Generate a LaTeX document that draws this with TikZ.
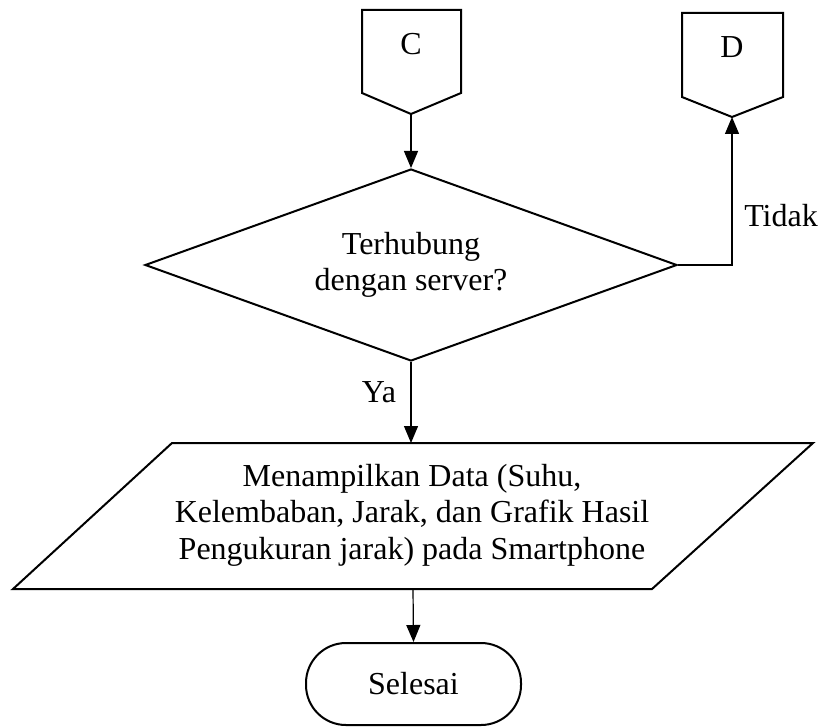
\documentclass[tikz,border=0pt]{standalone}
\usepackage{fontspec}
\setmainfont{Liberation Serif}
\usetikzlibrary{arrows.meta,shapes.geometric}
\begin{document}
\begin{tikzpicture}[x=0.5pt,y=-0.5pt,
  font=\fontsize{16}{18.2}\selectfont,
  shape line/.style={draw=black,line width=1pt,line join=miter},
  flow/.style={draw=black,line width=0.6pt,-{Triangle[length=8.5pt,width=7pt]}},
  label text/.style={inner sep=0pt}]
\useasboundingbox (0,0) rectangle (822,727);

% off-page connector C
\coordinate (Cp) at (411,114);
\draw[shape line] (362,10) -- (461,10) -- (461,93) -- (Cp) -- (362,93) -- cycle;
\node[label text] (C) at (411,44) {C};

% off-page connector D
\coordinate (Dp) at (732,117);
\draw[shape line] (682,13) -- (783,13) -- (783,97) -- (Dp) -- (682,97) -- cycle;
\node[label text] (D) at (732,47) {D};

% decision
\node[diamond, shape line, inner sep=0pt, minimum width=266pt, minimum height=96pt,
      aspect=2.77, align=center] (dec) at (411,265) {Terhubung\\dengan server?};

% output data
\coordinate (ioTop) at (411,443);
\coordinate (ioBot) at (413,589);
\draw[shape line] (172,443) -- (813,443) -- (652,589) -- (13,589) -- cycle;
\node[label text, align=center] (io) at (412,515)
  {Menampilkan Data (Suhu,\\Kelembaban, Jarak, dan Grafik Hasil\\Pengukuran jarak) pada Smartphone};

% terminator
\node[shape line, rounded corners=20pt, minimum width=107.5pt, minimum height=41pt,
      inner sep=0pt] (end) at (413.5,684) {Selesai};

% connectors
\draw[flow] (Cp) -- (dec.north);
\draw[flow] (dec.east) -| (Dp);
\node[label text] (tidak) at (781,216) {Tidak};
\draw[flow] (dec.south) -- (ioTop);
\node[label text] (ya) at (379,392) {Ya};
\draw[flow] (ioBot) -- (end.north);
\end{tikzpicture}
\end{document}
